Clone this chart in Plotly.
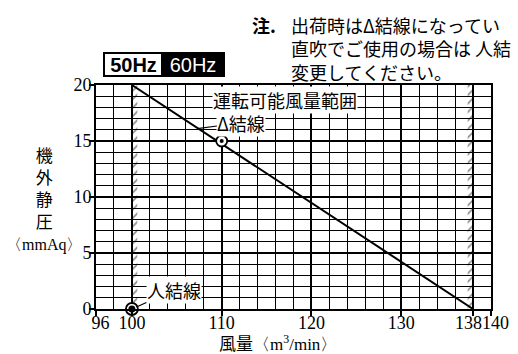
import plotly.graph_objects as go

# ---- data ----
flow_range = [100, 138]          # 運転可能風量範囲 (m3/min)
pressure_line = [20, 0]          # static pressure at range ends (mmAq)
delta_point_x = [110]
delta_point_y = [15]
star_point_x = [100]
star_point_y = [0]
x_tickvals = [96, 100, 110, 120, 130, 138, 140]
x_ticktext = ["\u00a0\u00a096", "100", "110", "120", "130", "138\u00a0\u00a0", "\u00a0\u00a0140"]
y_tickvals = [0, 5, 10, 15, 20]
y_ticktext = ["0", "5", "10", "15", "20"]
hatch_top = 20

SERIF = "Liberation Serif, Times New Roman, serif"
CJK = "Noto Sans CJK JP"

fig = go.Figure()

# hatched range boundaries
fig.add_trace(go.Bar(
    x=[flow_range[0] + 0.3, flow_range[1] - 0.3], y=[hatch_top, hatch_top], base=0,
    width=0.6,
    marker=dict(color="rgba(0,0,0,0)", line=dict(width=0),
                pattern=dict(shape="/", fgcolor="black", size=6, solidity=0.25,
                             fillmode="overlay")),
    hoverinfo="skip", showlegend=False))

# characteristic line
fig.add_trace(go.Scatter(x=flow_range, y=pressure_line, mode="lines",
                         line=dict(color="black", width=2), showlegend=False,
                         cliponaxis=False))

# Δ point: ring with dot
fig.add_trace(go.Scatter(x=delta_point_x, y=delta_point_y, mode="markers",
                         marker=dict(symbol="circle", size=11, color="white",
                                     line=dict(color="black", width=1.8)),
                         showlegend=False, cliponaxis=False))
fig.add_trace(go.Scatter(x=delta_point_x, y=delta_point_y, mode="markers",
                         marker=dict(symbol="circle", size=4, color="black"),
                         showlegend=False, cliponaxis=False))
# Y point: ring with filled dot
fig.add_trace(go.Scatter(x=star_point_x, y=star_point_y, mode="markers",
                         marker=dict(symbol="circle", size=12, color="white",
                                     line=dict(color="black", width=1.8)),
                         showlegend=False, cliponaxis=False))
fig.add_trace(go.Scatter(x=star_point_x, y=star_point_y, mode="markers",
                         marker=dict(symbol="circle", size=7, color="black"),
                         showlegend=False, cliponaxis=False))

fig.update_layout(
    width=518, height=354,
    margin=dict(l=96, r=27, t=85, b=45, autoexpand=False),
    paper_bgcolor="white", plot_bgcolor="white",
    barmode="overlay", showlegend=False,
    xaxis=dict(range=[96, 140], tickmode="array", tickvals=x_tickvals, ticktext=x_ticktext,
               tickangle=0, showgrid=True, gridcolor="black", gridwidth=2,
               showline=True, linecolor="black", linewidth=2, mirror=True,
               ticks="outside", ticklen=5, tickcolor="black", tickwidth=1.5,
               ticklabelstandoff=-9,
               tickfont=dict(family=SERIF, size=18, color="black"),
               minor=dict(dtick=2, tick0=96, showgrid=True, gridcolor="black", gridwidth=1,
                          ticks=""),
               zeroline=False, fixedrange=True, automargin=False),
    yaxis=dict(range=[0, 20], tickmode="array", tickvals=y_tickvals, ticktext=y_ticktext,
               showgrid=True, gridcolor="black", gridwidth=2,
               showline=True, linecolor="black", linewidth=2, mirror=True,
               ticks="outside", ticklen=5, tickcolor="black", tickwidth=1.5,
               ticklabelstandoff=-6,
               tickfont=dict(family=SERIF, size=18, color="black"),
               minor=dict(dtick=1, tick0=0, showgrid=True, gridcolor="black", gridwidth=1,
                          ticks=""),
               zeroline=False, fixedrange=True, automargin=False),
)

def px_to_paper_x(px):
    return (px - 96) / 395.0

def px_to_paper_y(py):
    return (309 - py) / 224.0

annotations = [
    # 運転可能風量範囲
    dict(x=108.9, y=18.65, xref="x", yref="y", text="運転可能風量範囲", showarrow=False,
         xanchor="left", yanchor="middle", bgcolor="white", borderpad=0,
         font=dict(family=CJK, size=18, color="black")),
    # Δ結線
    dict(x=107.3, y=16.1, xref="x", yref="y", text="Δ結線", showarrow=True,
         arrowhead=0, arrowwidth=1.2, arrowcolor="black", ax=44, ay=-6,
         bgcolor="white", borderpad=0,
         font=dict(family=CJK, size=18, color="black")),
    # 人結線
    dict(x=100, y=0, xref="x", yref="y", text="人結線", showarrow=True,
         arrowhead=0, arrowwidth=1.2, arrowcolor="black", ax=42, ay=-19, standoff=5,
         bgcolor="white", borderpad=0,
         font=dict(family=CJK, size=18, color="black")),
    # y-axis title
    dict(x=px_to_paper_x(44), y=px_to_paper_y(198), xref="paper", yref="paper",
         text="機<br>外<br>静<br>圧<br><span style='font-family:Liberation Serif;font-size:16px'>〈mmAq〉</span>",
         showarrow=False, align="center", xanchor="center", yanchor="middle",
         font=dict(family=CJK, size=17, color="black")),
    # x-axis title
    dict(x=px_to_paper_x(278), y=px_to_paper_y(342), xref="paper", yref="paper",
         text="風量<span style='font-family:Liberation Serif'>〈m<sup>3</sup>/min〉</span>",
         showarrow=False, xanchor="center", yanchor="middle",
         font=dict(family=CJK, size=17, color="black")),
    # note
    dict(x=px_to_paper_x(250), y=px_to_paper_y(25), xref="paper", yref="paper",
         text="<b>注.</b>", showarrow=False, xanchor="left", yanchor="middle",
         font=dict(family=CJK, size=18, color="black")),
    dict(x=px_to_paper_x(289), y=px_to_paper_y(48), xref="paper", yref="paper",
         text="出荷時はΔ結線になってい<br>直吹でご使用の場合は 人結<br>変更してください。",
         showarrow=False, xanchor="left", yanchor="middle", align="left",
         font=dict(family=CJK, size=18, color="black")),
    # 50Hz / 60Hz badge
    dict(x=px_to_paper_x(133), y=px_to_paper_y(64), xref="paper", yref="paper",
         text="<b>50Hz</b>", showarrow=False, xanchor="center", yanchor="middle",
         width=55, height=19, bgcolor="white", bordercolor="black", borderwidth=2, borderpad=1,
         font=dict(family="Liberation Sans, Arial", size=20, color="black")),
    dict(x=px_to_paper_x(193), y=px_to_paper_y(64), xref="paper", yref="paper",
         text="60Hz", showarrow=False, xanchor="center", yanchor="middle",
         width=58, height=19, bgcolor="black", bordercolor="black", borderwidth=2, borderpad=1,
         font=dict(family="Liberation Sans, Arial", size=20, color="white")),
]
fig.update_layout(annotations=annotations)

fig.write_html("out.html", config={"displayModeBar": False},
               post_script="document.body.style.margin='0px';")
